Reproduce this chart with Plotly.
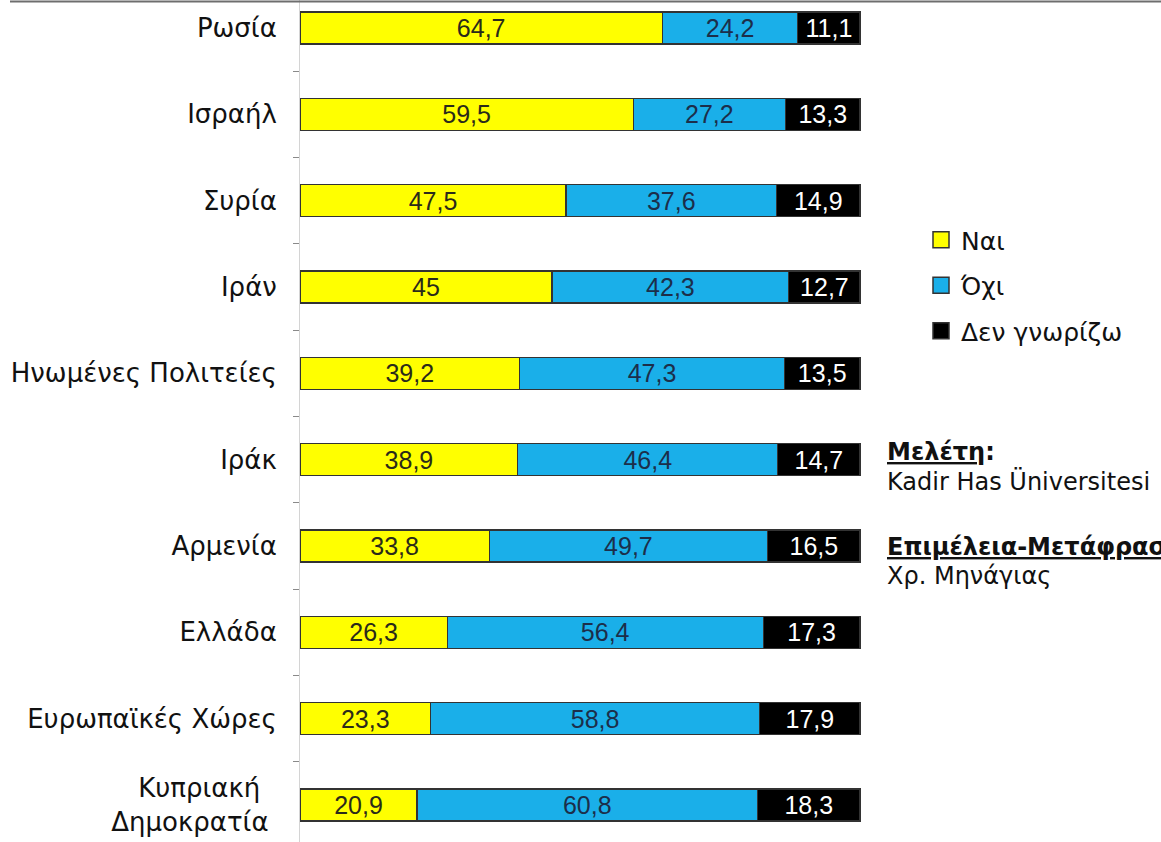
import plotly.graph_objects as go

categories = ["Ρωσία", "Ισραήλ", "Συρία", "Ιράν", "Ηνωμένες Πολιτείες", "Ιράκ",
              "Αρμενία", "Ελλάδα", "Ευρωπαϊκές Χώρες",
              "Κυπριακή&nbsp;&nbsp;<br>Δημοκρατία&nbsp;"]
nai = [64.7, 59.5, 47.5, 45.0, 39.2, 38.9, 33.8, 26.3, 23.3, 20.9]
ochi = [24.2, 27.2, 37.6, 42.3, 47.3, 46.4, 49.7, 56.4, 58.8, 60.8]
den_gnorizo = [11.1, 13.3, 14.9, 12.7, 13.5, 14.7, 16.5, 17.3, 17.9, 18.3]
series_names = ["Ναι", "Όχι", "Δεν γνωρίζω"]
colors = ["#FFFF00", "#1AAFE9", "#000000"]
text_colors = ["#2a2a1a", "#1c2e4a", "#FFFFFF"]


def fmt(v):
    s = ("%.1f" % v).rstrip("0").rstrip(".")
    return s.replace(".", ",")


fig = go.Figure()
for name, vals, col, tcol in zip(series_names, [nai, ochi, den_gnorizo], colors, text_colors):
    fig.add_trace(go.Bar(
        y=categories, x=vals, orientation="h", name=name,
        marker=dict(color=col, line=dict(color="#333333", width=1.2)),
        text=[fmt(v) for v in vals], textposition="inside", textangle=0,
        insidetextanchor="middle", constraintext="none",
        textfont=dict(family="Liberation Sans, Arial, sans-serif", size=25, color=tcol),
        width=0.37, showlegend=False, hoverinfo="skip",
    ))

# legend proxies
for i, (name, col) in enumerate(zip(series_names, colors)):
    fig.add_trace(go.Scatter(
        x=[None], y=[None], mode="markers", name=name,
        marker=dict(symbol="square", size=16, color=col, line=dict(color="#333333", width=1.5)),
        legendgroup=name, showlegend=True,
    ))

n = len(categories)
fig.update_layout(
    width=1161, height=842,
    margin=dict(l=300, r=0, t=0, b=0, autoexpand=False),
    paper_bgcolor="white", plot_bgcolor="white",
    barmode="stack",
    xaxis=dict(range=[0, 153.75], visible=False, showgrid=False, zeroline=False,
               automargin=False),
    yaxis=dict(
        type="category", categoryorder="array", categoryarray=categories,
        range=[n - 1 + 0.4286, -0.3244], automargin=False,
        showline=True, linecolor="#d4d4d4", linewidth=1,
        ticks="outside", tickson="boundaries", ticklen=6, tickcolor="#8a8a8a",
        showgrid=False, zeroline=False,
        ticklabelstandoff=17,
        tickfont=dict(family="DejaVu Sans, sans-serif", size=26, color="#111111"),
    ),
    legend=dict(
        x=(921 - 300) / 861, y=1 - 217 / 842, xanchor="left", yanchor="top",
        font=dict(family="DejaVu Sans, sans-serif", size=25, color="#111111"),
        traceorder="grouped", tracegroupgap=10, bgcolor="rgba(0,0,0,0)",
    ),
    font=dict(family="DejaVu Sans, sans-serif"),
    shapes=[dict(type="line", xref="paper", yref="paper",
                 x0=(10 - 300) / 861, x1=1.0, y0=1 - 1.5 / 842, y1=1 - 1.5 / 842,
                 line=dict(color="#6e6e6e", width=2))],
)

ann_font = dict(family="DejaVu Sans, sans-serif", size=24, color="#111111")
notes = [
    ("<b><span style='text-decoration:underline'>Μελέτη</span>:</b>", 452),
    ("Kadir Has Üniversitesi", 481),
    ("<b><span style='text-decoration:underline'>Επιμέλεια-Μετάφραση</span>:</b>", 547),
    ("Χρ. Μηνάγιας", 576),
]
for txt, ypx in notes:
    fig.add_annotation(text=txt, xref="paper", yref="paper",
                       x=(885 - 300) / 861, y=1 - ypx / 842,
                       xanchor="left", yanchor="middle", showarrow=False,
                       font=ann_font)

fig.write_html("out.html", config={"displayModeBar": False},
               post_script="document.body.style.margin='0';document.body.style.overflow='hidden';")
